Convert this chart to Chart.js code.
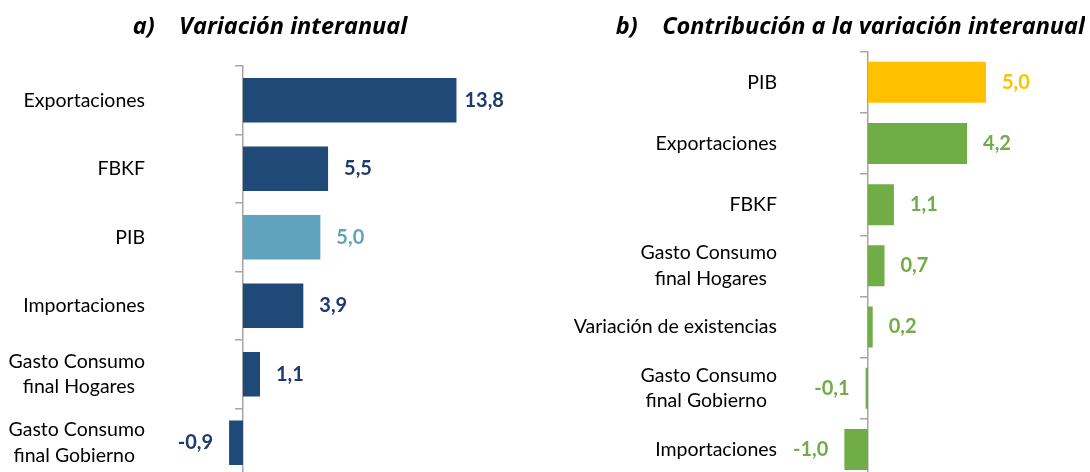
<!DOCTYPE html>
<html>
<head>
<meta charset="utf-8">
<script src="https://cdn.jsdelivr.net/npm/chart.js@4.4.1/dist/chart.umd.min.js"></script>
<style>
  html, body { margin: 0; padding: 0; background: #fff; overflow: hidden; width: 1090px; height: 472px; }
  #chartA { position: absolute; left: 0; top: 0; }
  #chartB { position: absolute; left: 545px; top: 0; }
</style>
</head>
<body>
<canvas id="chartA" width="540" height="477"></canvas>
<canvas id="chartB" width="540" height="480"></canvas>
<script>
// a) Variación interanual
const categoriasA = ['Exportaciones', 'FBKF', 'PIB', 'Importaciones',
  ['Gasto Consumo', 'final Hogares'], ['Gasto Consumo', 'final Gobierno']];
const variacionA = [13.8, 5.5, 5.0, 3.9, 1.1, -0.9];

// b) Contribución a la variación interanual
const categoriasB = ['PIB', 'Exportaciones', 'FBKF', ['Gasto Consumo', 'final Hogares'],
  'Variación de existencias', ['Gasto Consumo', 'final Gobierno'], 'Importaciones'];
const contribucionB = [5.0, 4.2, 1.1, 0.7, 0.2, -0.1, -1.0];

const FONT = 'Lato';
const tickFont = { family: FONT, size: 19.5, lineHeight: 1.3 };

// pad shorter lines so multi-line labels look centred on each other
const measureCtx = document.createElement('canvas').getContext('2d');
function centerLines(label) {
  if (!Array.isArray(label)) return label;
  measureCtx.font = tickFont.size + 'px ' + FONT;
  const widths = label.map(s => measureCtx.measureText(s).width);
  const maxW = Math.max(...widths);
  const sp = measureCtx.measureText(' ').width;
  return label.map((s, i) => s + ' '.repeat(Math.round((maxW - widths[i]) / 2 / sp)));
}

const valueLabels = {
  id: 'valueLabels',
  afterDatasetsDraw(chart, args, opts) {
    const ctx = chart.ctx;
    const meta = chart.getDatasetMeta(0);
    const data = chart.data.datasets[0].data;
    ctx.save();
    ctx.font = 'bold 20px ' + FONT;
    ctx.textBaseline = 'middle';
    meta.data.forEach((bar, i) => {
      const v = data[i];
      const txt = v.toFixed(1).replace('.', ',');
      const gap = v > 10 ? 8 : 16;
      ctx.fillStyle = opts.colors[i];
      if (v >= 0) {
        ctx.textAlign = 'left';
        ctx.fillText(txt, bar.x + gap, bar.y);
      } else {
        ctx.textAlign = 'right';
        ctx.fillText(txt, bar.x - gap, bar.y);
      }
    });
    ctx.restore();
  }
};

function makeChart(id, labels, values, barColors, textColors, cfg) {
  return new Chart(document.getElementById(id).getContext('2d'), {
    type: 'bar',
    data: {
      labels: labels,
      datasets: [{
        data: values,
        backgroundColor: barColors,
        barPercentage: cfg.barPct,
        categoryPercentage: 1
      }]
    },
    options: {
      indexAxis: 'y',
      responsive: false,
      animation: false,
      devicePixelRatio: 1,
      layout: { padding: 0 },
      plugins: {
        legend: { display: false },
        tooltip: { enabled: false },
        title: {
          display: true,
          text: cfg.title,
          align: cfg.titleAlign,
          color: '#000',
          font: { family: 'Open Sans', size: 23.5, weight: 'bold', style: 'italic', lineHeight: 1.2 },
          padding: { top: 13, bottom: cfg.titleBottom }
        },
        valueLabels: { colors: textColors }
      },
      scales: {
        x: { type: 'linear', display: false, min: cfg.min, max: cfg.max },
        y: {
          position: 'left',
          afterFit(s) {
            s.width = cfg.labelWidth;
            s.paddingTop = 0;
            s.paddingBottom = 0;
          },
          grid: { display: false, drawTicks: false },
          border: { display: false },
          ticks: {
            color: '#000',
            font: tickFont,
            padding: cfg.labelWidth - cfg.labelRight,
            autoSkip: false,
            callback(value) { return centerLines(this.getLabelForValue(value)); }
          }
        },
        y0: {
          type: 'category',
          axis: 'y',
          position: { x: 0 },
          offset: true,
          grid: { offset: true, drawOnChartArea: false, drawTicks: true, tickLength: 7, color: '#A6A6A6', lineWidth: 1.5 },
          border: { display: true, color: '#A6A6A6', width: 1.5 },
          ticks: { display: false }
        }
      }
    },
    plugins: [valueLabels]
  });
}

const navy = '#1F4A78', lightBlue = '#5FA3BF';
makeChart('chartA', categoriasA, variacionA,
  variacionA.map((v, i) => categoriasA[i] === 'PIB' ? lightBlue : navy),
  variacionA.map((v, i) => categoriasA[i] === 'PIB' ? lightBlue : '#1F3A6E'),
  { title: 'a)    Variación interanual', titleAlign: 'center', titleBottom: 24.8,
    min: -3, max: 19.2, labelWidth: 196.6, labelRight: 145, barPct: 0.65 });

const yellow = '#FFC000', green = '#70AD47';
makeChart('chartB', categoriasB, contribucionB,
  contribucionB.map((v, i) => categoriasB[i] === 'PIB' ? yellow : green),
  contribucionB.map((v, i) => categoriasB[i] === 'PIB' ? yellow : green),
  { title: 'b)    Contribución a la variación interanual', titleAlign: 'end', titleBottom: 10.5,
    min: -2, max: 9.2, labelWidth: 275.8, labelRight: 232, barPct: 0.67 });
</script>
</body>
</html>
